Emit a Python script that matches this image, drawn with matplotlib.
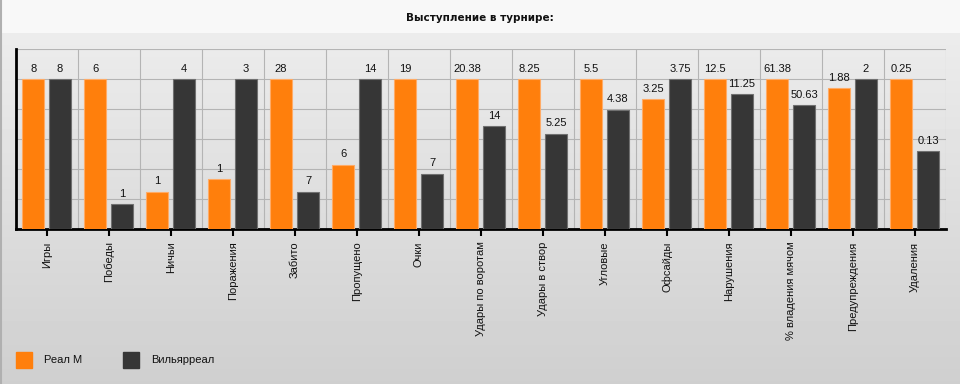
import numpy as np
import matplotlib
matplotlib.use("Agg")
import matplotlib.pyplot as plt

# данные турнира
categories = ["Игры", "Победы", "Ничьи", "Поражения", "Забито", "Пропущено", "Очки",
              "Удары по воротам", "Удары в створ", "Угловые", "Офсайды", "Нарушения",
              "% владения мячом", "Предупреждения", "Удаления"]
real = [8, 6, 1, 1, 28, 6, 19, 20.38, 8.25, 5.5, 3.25, 12.5, 61.38, 1.88, 0.25]
villa = [8, 1, 4, 3, 7, 14, 7, 14, 5.25, 4.38, 3.75, 11.25, 50.63, 2, 0.13]
teams = ["Реал М", "Вильярреал"]

orange = "#ff7f0c"
dark = "#363636"

W, H = 960, 384
fig = plt.figure(figsize=(W / 100, H / 100), dpi=100)

# фон с градиентом
bg = fig.add_axes([0, 0, 1, 1], zorder=0)
rows = np.linspace(0, 1, H)
grad = np.where(rows < 33 / H, 0xf8 / 255,
                0xec / 255 - (rows - 33 / H) / (1 - 33 / H) * (0xec - 0xcf) / 255)
bg.imshow(np.repeat(grad[:, None], 2, axis=1), cmap="gray", vmin=0, vmax=1,
          aspect="auto", extent=[0, 1, 0, 1])
bg.set_xlim(0, 1)
bg.set_ylim(0, 1)
bg.axis("off")
bg.axvline(0.001, color="#b0b0b0", lw=1.5)

fig.text(0.5, 1 - 18 / H, "Выступление в турнире:", ha="center", va="center",
         fontsize=7.5, fontweight="bold", family="DejaVu Sans", color="#111111")

ax = fig.add_axes([16 / W, (H - 229) / H, 930 / W, 180 / H], zorder=1)
ax.patch.set_alpha(0)

x = np.arange(len(categories))
real = np.array(real)
villa = np.array(villa)
top = np.maximum(real, villa)
hr = real / top * 100
hv = villa / top * 100

w = 0.355
ax.bar(x - 0.223, hr, w, color=orange, edgecolor="#ffab66", linewidth=0.8, zorder=3)
ax.bar(x + 0.21, hv, w, color=dark, edgecolor="#707070", linewidth=0.8, zorder=3)

for i in range(len(categories)):
    ax.text(x[i] - 0.223, hr[i] + 3.5, f"{real[i]:g}", ha="center", va="bottom",
            fontsize=8, family="Liberation Sans", color="#111111")
    ax.text(x[i] + 0.21, hv[i] + 3.5, f"{villa[i]:g}", ha="center", va="bottom",
            fontsize=8, family="Liberation Sans", color="#111111")

ax.set_xlim(-0.5, len(categories) - 0.5)
ax.set_ylim(0, 120)
ax.set_yticks(np.arange(0, 121, 20))
ax.set_yticklabels([])
ax.tick_params(axis="y", length=0)
ax.set_xticks(x)
ax.set_xticklabels(categories, rotation=90, fontsize=8, family="Liberation Sans",
                   color="#111111")
ax.set_xticks(np.arange(-0.5, len(categories), 1), minor=True)
ax.tick_params(axis="x", which="major", length=5, width=1.5, color="black", pad=4)
ax.tick_params(axis="x", which="minor", length=0)
ax.grid(axis="y", color="#b4b4b4", lw=0.8, zorder=1)
ax.grid(axis="x", which="minor", color="#b4b4b4", lw=0.8, zorder=1)
for s in ["top", "right"]:
    ax.spines[s].set_visible(False)
ax.spines["left"].set_linewidth(2)
ax.spines["bottom"].set_linewidth(2)

# легенда
for px, col, name in [(16, orange, teams[0]), (123, dark, teams[1])]:
    fig.patches.append(plt.Rectangle((px / W, (H - 368) / H), 16 / W, 16 / H,
                                     color=col, transform=fig.transFigure, zorder=2))
    fig.text((px + 28) / W, (H - 360) / H, name, va="center", ha="left",
             fontsize=8, family="Liberation Sans", color="#111111")

fig.savefig("out.png", dpi=100)
